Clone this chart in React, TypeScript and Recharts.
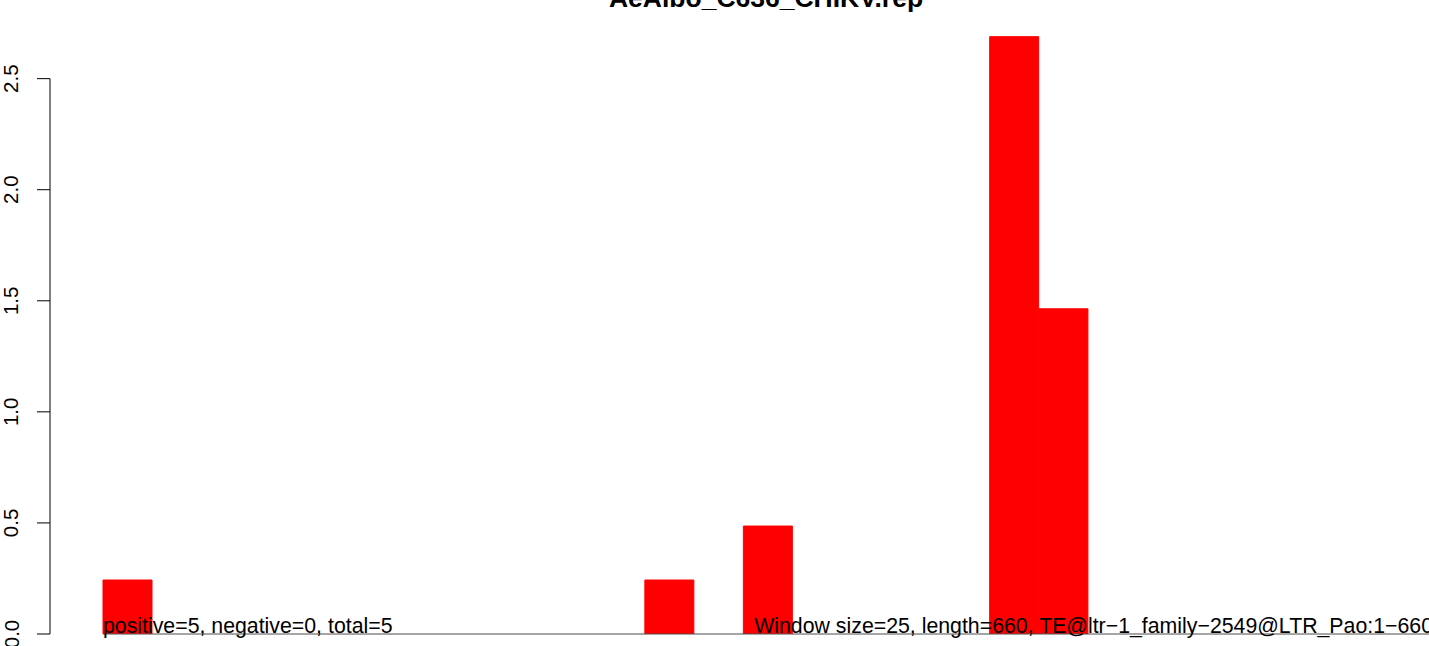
import React from "react";
import { BarChart, Bar, XAxis, YAxis, ReferenceLine, ReferenceDot } from "recharts";

const TITLE = "AeAlbo_C636_CHIKV.rep";
const LEFT_NOTE = "positive=5, negative=0, total=5";
const RIGHT_NOTE = "Window size=25, length=660, TE@ltr\u22121_family\u22122549@LTR_Pao:1\u2212660";

// 27 windows of 25 bp across a 660 bp element
const windowIndex = [0, 1, 2, 3, 4, 5, 6, 7, 8, 9, 10, 11, 12, 13, 14, 15, 16, 17, 18, 19, 20, 21, 22, 23, 24, 25, 26];
const coverage = [0.243, 0, 0, 0, 0, 0, 0, 0, 0, 0, 0, 0.243, 0, 0.486, 0, 0, 0, 0, 2.689, 1.464, 0, 0, 0, 0, 0, 0, 0];
const yTicks = [0, 0.5, 1, 1.5, 2, 2.5];
const yTickLabels = ["0.0", "0.5", "1.0", "1.5", "2.0", "2.5"];

const X_MIN = -1.076;
const X_MAX = 27;
const Y_MAX = 2.8;

const data = windowIndex.map((w, i) => ({ x: w + 0.5, value: coverage[i] }));

const FONT = "'Liberation Sans', Arial, Helvetica, sans-serif";

const YTick = (props: any) => {
  const { x, y, payload } = props;
  const bx = x - 16.5;
  const idx = yTicks.indexOf(payload.value);
  const label = idx >= 0 ? yTickLabels[idx] : String(payload.value);
  return (
    <text
      x={bx}
      y={y}
      transform={`rotate(-90, ${bx}, ${y})`}
      textAnchor="middle"
      fontSize={20.5}
      fontFamily={FONT}
      fill="#000"
    >
      {label}
    </text>
  );
};

const leftNote = (props: any) => {
  const vb = props.viewBox || {};
  return (
    <text x={vb.x} y={vb.y - 1} textAnchor="start" fontSize={21.3} fontFamily={FONT} fill="#000">
      {LEFT_NOTE}
    </text>
  );
};

const rightNote = (props: any) => {
  const vb = props.viewBox || {};
  return (
    <text x={vb.x} y={vb.y - 1} textAnchor="end" fontSize={21.3} fontFamily={FONT} fill="#000">
      {RIGHT_NOTE}
    </text>
  );
};

export default function App() {
  return (
    <div
      style={{
        position: "fixed",
        left: 0,
        top: 0,
        width: 1429,
        height: 646,
        overflow: "hidden",
        background: "#fff",
      }}
    >
      <BarChart
        width={1433}
        height={646}
        data={data}
        margin={{ top: 12, right: 0, bottom: 12, left: 0 }}
        barCategoryGap={0}
        barGap={0}
      >
        <XAxis type="number" dataKey="x" domain={[X_MIN, X_MAX]} allowDataOverflow hide />
        <YAxis
          type="number"
          domain={[0, Y_MAX]}
          allowDataOverflow
          ticks={yTicks}
          width={50}
          axisLine={false}
          tickLine={{ stroke: "#000", strokeWidth: 1 }}
          tickSize={13}
          tick={<YTick />}
          interval={0}
        />
        <Bar dataKey="value" fill="#ff0000" stroke="#ff0000" strokeWidth={1} isAnimationActive={false} />
        <ReferenceLine
          segment={[{ x: 0, y: 0 }, { x: X_MAX, y: 0 }]}
          stroke="#4d4d4d"
          strokeWidth={1}
          ifOverflow="visible"
        />
        <ReferenceLine
          segment={[{ x: X_MIN, y: 0 }, { x: X_MIN, y: 2.5 }]}
          stroke="#000"
          strokeWidth={1}
          ifOverflow="visible"
        />
        <ReferenceDot x={0} y={0} r={0} ifOverflow="visible" label={leftNote} />
        <ReferenceDot x={X_MAX} y={0} r={0} ifOverflow="visible" label={rightNote} />
      </BarChart>
      <svg
        width={1429}
        height={646}
        style={{ position: "absolute", left: 0, top: 0, pointerEvents: "none" }}
      >
        <text x={766} y={7} textAnchor="middle" fontSize={26.5} fontWeight="bold" fontFamily={FONT} fill="#000">
          {TITLE}
        </text>
      </svg>
    </div>
  );
}
